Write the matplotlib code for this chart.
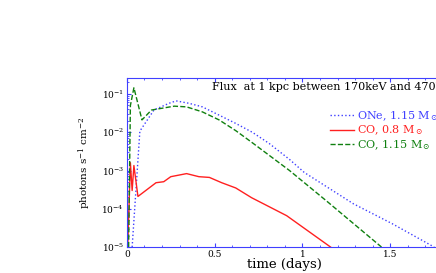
import numpy as np
import matplotlib
matplotlib.use("Agg")
import matplotlib.pyplot as plt
from matplotlib.ticker import LogLocator, LogFormatterMathtext, MultipleLocator, FuncFormatter

plt.rcParams['font.family'] = ['DejaVu Serif']
plt.rcParams['mathtext.fontset'] = 'dejavuserif'

# ONe, 1.15 Msun (blue dotted)
one_t = [0.03, 0.074, 0.154, 0.24, 0.28, 0.354, 0.43, 0.525, 0.62, 0.714, 0.81, 0.926,
         1.01, 1.29, 1.51, 1.75]
one_f = [1e-5, 1.07e-2, 3.8e-2, 5.7e-2, 6.6e-2, 5.7e-2, 4.6e-2, 2.8e-2, 1.7e-2, 1.0e-2,
         5.1e-3, 1.95e-3, 8.9e-4, 1.35e-4, 4.1e-5, 1e-5]

# CO, 0.8 Msun (red solid)
co08_t = [0.005, 0.02, 0.03, 0.04, 0.063, 0.166, 0.21, 0.25, 0.34, 0.41, 0.47, 0.54,
          0.62, 0.71, 0.91, 1.16]
co08_f = [1e-5, 1.6e-3, 3.0e-4, 1.35e-3, 2.1e-4, 4.8e-4, 5.1e-4, 6.9e-4, 8.3e-4, 6.9e-4,
          6.6e-4, 4.8e-4, 3.5e-4, 1.95e-4, 6.6e-5, 1e-5]

# CO, 1.15 Msun (green dashed)
co115_t = [0.01, 0.02, 0.04, 0.086, 0.14, 0.27, 0.34, 0.43, 0.525, 0.62, 0.71, 0.81,
           0.926, 1.137, 1.45]
co115_f = [1e-5, 5e-2, 1.45e-1, 2.1e-2, 3.8e-2, 4.8e-2, 4.6e-2, 3.4e-2, 2.1e-2, 1.1e-2,
           5.5e-3, 2.5e-3, 1.0e-3, 1.6e-4, 1e-5]

fig = plt.figure(figsize=(4.36, 2.73), dpi=100)
ax = fig.add_axes([0.291, 0.095, 0.725, 0.619])

ax.plot(one_t, one_f, color='#4040ff', linestyle=':', lw=1.0, label=r'ONe, 1.15 M$_\odot$')
ax.plot(co08_t, co08_f, color='#ff2020', linestyle='-', lw=1.0, label=r'CO, 0.8 M$_\odot$')
ax.plot(co115_t, co115_f, color='#108010', linestyle='--', lw=1.0, label=r'CO, 1.15 M$_\odot$')

ax.set_yscale('log')
ax.set_xlim(0, 1.8)
ax.set_ylim(1e-5, 0.26)

for s in ax.spines.values():
    s.set_color('#4040ff')
ax.tick_params(which='both', direction='in', colors='#4040ff', labelcolor='black',
               labelsize=6.5, top=True, right=True, pad=2)
ax.tick_params(which='major', length=3)
ax.tick_params(which='minor', length=1.5)
ax.xaxis.set_major_locator(MultipleLocator(0.5))
ax.xaxis.set_minor_locator(MultipleLocator(0.1))
ax.xaxis.set_major_formatter(FuncFormatter(lambda v, p: '%g' % v))
ax.yaxis.set_major_locator(LogLocator(base=10, numticks=10))
ax.yaxis.set_minor_locator(LogLocator(base=10, subs=np.arange(2, 10), numticks=10))
ax.yaxis.set_major_formatter(LogFormatterMathtext())

ax.set_xlabel('time (days)', fontsize=9.5, labelpad=-0.5)
ax.set_ylabel(r'photons s$^{-1}$ cm$^{-2}$', fontsize=7.5, labelpad=6)
ax.text(0.269, 0.95, 'Flux  at 1 kpc between 170keV and 470keV', transform=ax.transAxes,
        fontsize=8, va='center', ha='left')

leg = ax.legend(loc='upper left', bbox_to_anchor=(0.625, 0.85), frameon=False, fontsize=8,
                handlelength=2.2, handletextpad=0.2, labelspacing=0.1, borderpad=0)
for t, l in zip(leg.get_texts(), leg.get_lines()):
    t.set_color(l.get_color())

fig.savefig('out.png', dpi=100)
